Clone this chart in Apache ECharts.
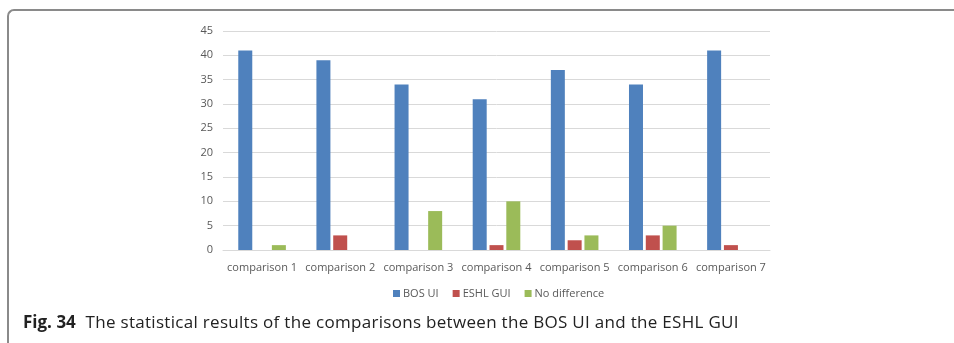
<!DOCTYPE html>
<html>
<head>
<meta charset="utf-8">
<script src="https://cdn.jsdelivr.net/npm/echarts@6/dist/echarts.min.js"></script>
<style>
	html,body{margin:0;padding:0;background:#fff;}
	#wrap{position:relative;width:954px;height:343px;overflow:hidden;}
	#frame{position:absolute;left:7px;top:9px;width:960px;height:350px;border-left:2px solid #8a8a8a;border-top:2px solid #8a8a8a;border-top-left-radius:7px;box-sizing:border-box;}
	#chart{position:absolute;left:0;top:0;width:954px;height:343px;}
	#caption{position:absolute;left:23px;top:310px;font-family:"Open Sans",sans-serif;font-size:17px;letter-spacing:0.3px;color:#222;white-space:nowrap;}
	#caption b{font-weight:bold;margin-right:5px;letter-spacing:0;}
</style>
</head>
<body>
<div id="wrap">
	<div id="frame"></div>
	<div id="chart"></div>
	<div id="caption"><b>Fig. 34</b> The statistical results of the comparisons between the BOS UI and the ESHL GUI</div>
</div>
<script>
// data
const categories=['comparison 1','comparison 2','comparison 3','comparison 4','comparison 5','comparison 6','comparison 7'];
const bosUI=[41,39,34,31,37,34,41];
const eshlGUI=[0,3,0,1,2,3,1];
const noDiff=[1,0,8,10,3,5,0];
const seriesNames=['BOS UI','ESHL GUI','No difference'];
const colors=['#4f81bd','#c0504d','#9bbb59'];

function initChart(domid){
	let dom=document.getElementById(domid);
	if(dom==null) return;
	let inst=echarts.getInstanceByDom(dom);
	if(inst) return inst;
	return echarts.init(dom);
}

let mychart=initChart('chart');
const labelFont={fontFamily:'"Open Sans", sans-serif',fontSize:11,color:'#595959'};

mychart.setOption({
	animation:false,
	color:colors,
	grid:{left:223,right:184,top:31,bottom:93,containLabel:false},
	legend:{
		data:seriesNames,
		left:388,top:283,
		icon:'rect',itemWidth:7,itemHeight:7,itemGap:14,
		textStyle:{fontFamily:'"Open Sans", sans-serif',fontSize:11,color:'#595959',padding:[0,0,0,-2]}
	},
	xAxis:{
		type:'category',
		data:categories,
		axisLine:{lineStyle:{color:'#d9d9d9'}},
		axisTick:{show:false},
		axisLabel:Object.assign({margin:12,interval:0},labelFont)
	},
	yAxis:{
		type:'value',
		min:0,max:45,interval:5,
		axisLine:{show:false},
		axisTick:{show:false},
		splitLine:{lineStyle:{color:'#d9d9d9'}},
		axisLabel:Object.assign({margin:10},labelFont)
	},
	series:[
		{name:seriesNames[0],type:'bar',data:bosUI,barWidth:14,barGap:'20%'},
		{name:seriesNames[1],type:'bar',data:eshlGUI,barWidth:14,barGap:'20%'},
		{name:seriesNames[2],type:'bar',data:noDiff,barWidth:14,barGap:'20%'}
	]
});
</script>
</body>
</html>
